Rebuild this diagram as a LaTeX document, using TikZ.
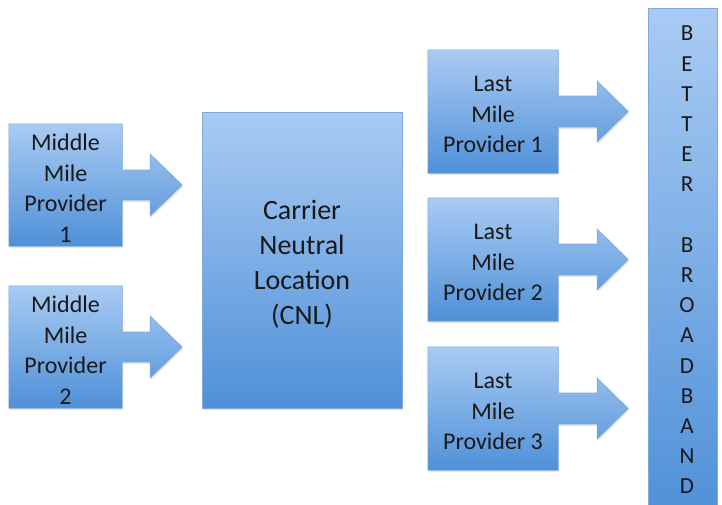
\documentclass[tikz,border=0pt]{standalone}
\usepackage{fontspec}
\setmainfont{Carlito}
\usetikzlibrary{calc,shadows}
\definecolor{topblue}{HTML}{A9CBF3}
\definecolor{botblue}{HTML}{4F90D8}
\definecolor{edgeblue}{HTML}{7FA9DA}
\tikzset{
  shapefill/.style={top color=topblue, bottom color=botblue, draw=edgeblue, line width=0.6pt,
    drop shadow={opacity=0.18, shadow xshift=1pt, shadow yshift=-2pt}},
  label box/.style={inner sep=0pt, align=center, font=\fontsize{24}{30.5}\selectfont, text=black!90},
}
\newcommand\arrowbox[5]{% node, shaft half, head half, shaft len, head len
  \path[shapefill] (#1.north west) -- (#1.north east)
    -- ([yshift=#2pt]#1.east) -- ([xshift=#4pt,yshift=#2pt]#1.east)
    -- ([xshift=#4pt,yshift=#3pt]#1.east) -- ([xshift=#4pt+#5pt]#1.east)
    -- ([xshift=#4pt,yshift=-#3pt]#1.east) -- ([xshift=#4pt,yshift=-#2pt]#1.east)
    -- ([yshift=-#2pt]#1.east) -- (#1.south east) -- (#1.south west) -- cycle;
  \node[label box, yshift=-3pt] at (#1) {\csname txt#1\endcsname};
}
\begin{document}
\begin{tikzpicture}[x=1pt,y=-1pt]
\useasboundingbox[fill=white] (0,0) rectangle (722,504);
% anchor rectangles
\path (9,124) rectangle (122,246) node[pos=.5, inner sep=0pt, minimum width=113pt, minimum height=122pt] (mm1) {};
\path (9,286) rectangle (122,408) node[pos=.5, inner sep=0pt, minimum width=113pt, minimum height=122pt] (mm2) {};
\path (428,50) rectangle (558,173) node[pos=.5, inner sep=0pt, minimum width=130pt, minimum height=123pt] (lm1) {};
\path (428,198) rectangle (558,321) node[pos=.5, inner sep=0pt, minimum width=130pt, minimum height=123pt] (lm2) {};
\path (428,347) rectangle (558,470) node[pos=.5, inner sep=0pt, minimum width=130pt, minimum height=123pt] (lm3) {};
\expandafter\def\csname txtmm1\endcsname{Middle\\Mile\\Provider\\1}
\expandafter\def\csname txtmm2\endcsname{Middle\\Mile\\Provider\\2}
\expandafter\def\csname txtlm1\endcsname{Last\\Mile\\Provider 1}
\expandafter\def\csname txtlm2\endcsname{Last\\Mile\\Provider 2}
\expandafter\def\csname txtlm3\endcsname{Last\\Mile\\Provider 3}
\arrowbox{mm1}{15}{31}{28}{32}
\arrowbox{mm2}{15}{31}{28}{32}
\arrowbox{lm1}{15.5}{30.5}{39}{31}
\arrowbox{lm2}{15.5}{30.5}{39}{31}
\arrowbox{lm3}{15.5}{30.5}{39}{31}
% CNL
\path[shapefill] (202,112) rectangle (402,408);
\node[label box, font=\fontsize{28}{35}\selectfont] (cnl) at (302,264) {Carrier\\Neutral\\Location\\(CNL)};
% Better broadband column
\path[shapefill] (648,8) rectangle (717,520);
\node[inner sep=0pt, align=center, font=\fontsize{23}{30.2}\selectfont, text=black!90] (bb) at (687,260)
  {B\\E\\T\\T\\E\\R\\[30.2pt]B\\R\\O\\A\\D\\B\\A\\N\\D};
\end{tikzpicture}
\end{document}
